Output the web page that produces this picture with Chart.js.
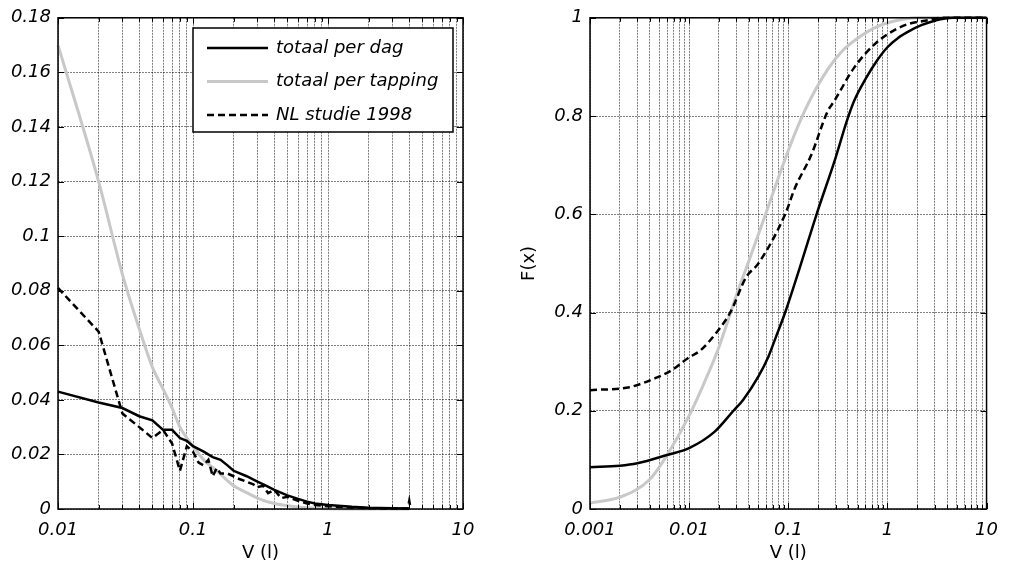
<!DOCTYPE html>
<html>
<head>
<meta charset="utf-8">
<script src="https://cdn.jsdelivr.net/npm/chart.js@4.4.1/dist/chart.umd.min.js"></script>
<style>
    html, body { margin: 0; padding: 0; background: #fff; }
    #wrap { position: relative; width: 1009px; height: 565px; overflow: hidden; }
    #left { position: absolute; left: 0; top: 0; }
    #right { position: absolute; left: 500px; top: 0; }
</style>
</head>
<body>
<div id="wrap">
    <canvas id="left" width="495" height="565"></canvas>
    <canvas id="right" width="509" height="565"></canvas>
</div>
<script>
/* Tappingsvolumes – kansdichtheid (links) en cumulatieve verdeling (rechts) */
(function () {
    'use strict';

    var LABELS = ['totaal per dag', 'totaal per tapping', 'NL studie 1998'];

    // left: density
    var dagX = [0.01, 0.02, 0.03, 0.04, 0.05, 0.06, 0.07, 0.08, 0.09, 0.1, 0.12, 0.14, 0.16, 0.18, 0.2, 0.25, 0.3, 0.35, 0.4, 0.5, 0.6, 0.7, 0.8, 1, 1.5, 2, 3, 4];
    var dagY = [0.043, 0.039, 0.037, 0.034, 0.0325, 0.029, 0.029, 0.026, 0.025, 0.023, 0.021, 0.019, 0.018, 0.016, 0.014, 0.012, 0.010, 0.0085, 0.007, 0.005, 0.0037, 0.0027, 0.002, 0.0015, 0.0008, 0.0005, 0.0003, 0.0002];

    var tapX = [0.01, 0.02, 0.03, 0.04, 0.05, 0.06, 0.07, 0.08, 0.09, 0.1, 0.12, 0.15, 0.2, 0.25, 0.3, 0.4, 0.5, 0.6, 0.8, 1, 2, 4];
    var tapY = [0.170, 0.120, 0.086, 0.066, 0.052, 0.044, 0.037, 0.030, 0.026, 0.023, 0.018, 0.014, 0.0085, 0.006, 0.004, 0.002, 0.0012, 0.0007, 0.0003, 0.0001, 0, 0];

    var nlX = [0.01, 0.02, 0.03, 0.04, 0.05, 0.06, 0.07, 0.08, 0.09, 0.1, 0.11, 0.12, 0.13, 0.14, 0.15, 0.16, 0.18, 0.2, 0.22, 0.25, 0.28, 0.3, 0.33, 0.36, 0.4, 0.45, 0.5, 0.6, 0.7, 0.8, 1, 1.5, 2, 3, 3.9, 4, 4.1];
    var nlY = [0.081, 0.065, 0.035, 0.030, 0.026, 0.029, 0.024, 0.014, 0.023, 0.021, 0.017, 0.016, 0.018, 0.012, 0.015, 0.013, 0.013, 0.012, 0.011, 0.010, 0.009, 0.008, 0.0085, 0.0058, 0.007, 0.004, 0.0045, 0.003, 0.002, 0.0015, 0.001, 0.0005, 0.0003, 0.0002, 0.0002, 0.003, 0];

    // right: cumulative
    var dagCdfX = [0.001, 0.002, 0.003, 0.006, 0.01, 0.018, 0.028, 0.035, 0.05, 0.063, 0.075, 0.093, 0.13, 0.193, 0.3, 0.39, 0.46, 0.6, 0.78, 1, 1.3, 1.66, 2.2, 3, 4.5, 10];
    var dagCdfY = [0.085, 0.088, 0.093, 0.11, 0.124, 0.157, 0.2, 0.222, 0.27, 0.31, 0.35, 0.40, 0.49, 0.6, 0.715, 0.79, 0.83, 0.875, 0.912, 0.94, 0.96, 0.973, 0.985, 0.994, 1, 1];

    var tapCdfX = [0.001, 0.002, 0.004, 0.006, 0.01, 0.015, 0.02, 0.03, 0.04, 0.059, 0.1, 0.15, 0.25, 0.36, 0.53, 0.75, 1.1, 2, 10];
    var tapCdfY = [0.012, 0.024, 0.06, 0.11, 0.19, 0.268, 0.33, 0.435, 0.505, 0.6, 0.73, 0.815, 0.895, 0.935, 0.962, 0.98, 0.992, 1, 1];

    var nlCdfX = [0.001, 0.0025, 0.0045, 0.0066, 0.0097, 0.013, 0.019, 0.026, 0.0376, 0.05, 0.093, 0.117, 0.17, 0.25, 0.29, 0.46, 0.75, 1.13, 1.66, 2.4, 3.5, 10];
    var nlCdfY = [0.242, 0.248, 0.266, 0.282, 0.307, 0.323, 0.36, 0.40, 0.472, 0.5, 0.6, 0.654, 0.72, 0.81, 0.83, 0.898, 0.947, 0.973, 0.988, 0.994, 1, 1];

    var LEFT_Y_TICKS = { min: 0, max: 0.18, step: 0.02 };
    var RIGHT_Y_TICKS = { min: 0, max: 1, step: 0.2 };

    var FONT = '"DejaVu Sans", "Liberation Sans", sans-serif';
    var GRID = 'rgba(0,0,0,0.5)';

    function pts(xs, ys) {
        return xs.map(function (x, i) { return { x: x, y: ys[i] }; });
    }

    function logTicks(lo, hi) {
        var out = [];
        for (var e = lo; e < hi; e++) {
            for (var m = 1; m < 10; m++) out.push(+(m * Math.pow(10, e)).toPrecision(3));
        }
        out.push(Math.pow(10, hi));
        return out;
    }

    function isDecade(v) {
        var l = Math.log10(v);
        return Math.abs(l - Math.round(l)) < 1e-9;
    }

    // smooth: which series get monotone interpolation [dag, tapping, NL]
    function datasets(a, b, c, smooth) {
        var mode = function (on) { return on ? 'monotone' : 'default'; };
        return [
            { label: LABELS[0], data: a, borderColor: '#000', borderWidth: 2.5, order: 1, cubicInterpolationMode: mode(smooth[0]) },
            { label: LABELS[1], data: b, borderColor: '#c8c8c8', borderWidth: 3, order: 2, cubicInterpolationMode: mode(smooth[1]) },
            { label: LABELS[2], data: c, borderColor: '#000', borderWidth: 2.5, borderDash: [7, 4], order: 1, cubicInterpolationMode: mode(smooth[2]) }
        ];
    }

    // box around the plot + inward tick marks (MATLAB style)
    var frame = {
        id: 'frame',
        afterDatasetsDraw: function (chart) {
            var a = chart.chartArea, ctx = chart.ctx;
            var sx = chart.scales.x, sy = chart.scales.y;
            ctx.save();
            ctx.strokeStyle = '#000';
            ctx.lineWidth = 1;
            ctx.setLineDash([]);
            ctx.beginPath();
            sx.ticks.forEach(function (t) {
                var px = Math.round(sx.getPixelForValue(t.value)) + 0.5;
                var len = isDecade(t.value) ? 6 : 4;
                ctx.moveTo(px, a.bottom); ctx.lineTo(px, a.bottom - len);
                ctx.moveTo(px, a.top); ctx.lineTo(px, a.top + len);
            });
            sy.ticks.forEach(function (t) {
                var py = Math.round(sy.getPixelForValue(t.value)) + 0.5;
                ctx.moveTo(a.left, py); ctx.lineTo(a.left + 6, py);
                ctx.moveTo(a.right, py); ctx.lineTo(a.right - 6, py);
            });
            ctx.stroke();
            ctx.lineWidth = 1.5;
            ctx.strokeRect(a.left, a.top, a.right - a.left, a.bottom - a.top);
            ctx.restore();
        }
    };

    var legendBox = {
        id: 'legendBox',
        afterDraw: function (chart) {
            var ctx = chart.ctx;
            var bx = 193, by = 28, bw = 260, bh = 104;
            ctx.save();
            ctx.fillStyle = '#fff';
            ctx.fillRect(bx, by, bw, bh);
            ctx.strokeStyle = '#000';
            ctx.lineWidth = 1.5;
            ctx.strokeRect(bx, by, bw, bh);
            chart.data.datasets.forEach(function (ds, i) {
                var yy = by + 20 + i * 33.5;
                ctx.strokeStyle = ds.borderColor;
                ctx.lineWidth = ds.borderWidth;
                ctx.setLineDash(ds.borderDash || []);
                ctx.beginPath();
                ctx.moveTo(207, yy);
                ctx.lineTo(268, yy);
                ctx.stroke();
                ctx.setLineDash([]);
                ctx.fillStyle = '#000';
                ctx.font = 'italic 18px ' + FONT;
                ctx.textBaseline = 'middle';
                ctx.textAlign = 'left';
                ctx.fillText(ds.label, 276, yy);
            });
            ctx.restore();
        }
    };

    function buildChart(id, data, xLo, xHi, yT, yWidth, padRight, yTitle, extraPlugins) {
        var xTicks = logTicks(xLo, xHi);
        var digits = yT.step < 0.1 ? 2 : 1;
        return new Chart(document.getElementById(id), {
            type: 'line',
            data: { datasets: data },
            options: {
                responsive: false,
                animation: false,
                events: [],
                layout: { padding: { top: 17, right: padRight, left: 0, bottom: 0 } },
                elements: {
                    point: { radius: 0 },
                    line: { tension: 0, fill: false, borderCapStyle: 'butt' }
                },
                datasets: { line: { clip: 4 } },
                plugins: { legend: { display: false }, tooltip: { enabled: false } },
                scales: {
                    x: {
                        type: 'logarithmic',
                        min: Math.pow(10, xLo),
                        max: Math.pow(10, xHi),
                        afterBuildTicks: function (s) {
                            s.ticks = xTicks.map(function (v) { return { value: v }; });
                        },
                        afterFit: function (s) { s.height = 56; },
                        ticks: {
                            autoSkip: false,
                            maxRotation: 0,
                            padding: 11,
                            color: '#000',
                            font: { family: FONT, size: 18, style: 'italic' },
                            callback: function (v) { return isDecade(v) ? String(v) : ''; }
                        },
                        grid: { color: GRID, lineWidth: 1, drawTicks: false },
                        border: { display: false, dash: [2, 1] },
                        title: {
                            display: true,
                            text: 'V (l)',
                            color: '#000',
                            font: { family: FONT, size: 18 },
                            padding: { top: 0, bottom: 1 }
                        }
                    },
                    y: {
                        min: yT.min,
                        max: yT.max,
                        afterFit: function (s) { s.width = yWidth; },
                        ticks: {
                            stepSize: yT.step,
                            padding: 7,
                            color: '#000',
                            font: { family: FONT, size: 18, style: 'italic' },
                            callback: function (v) { return String(+v.toFixed(digits)); }
                        },
                        grid: { color: GRID, lineWidth: 1, drawTicks: false },
                        border: { display: false, dash: [2, 1] },
                        title: {
                            display: !!yTitle,
                            text: yTitle || '',
                            color: '#000',
                            font: { family: FONT, size: 18 },
                            padding: { top: 19, bottom: 19 }
                        }
                    }
                }
            },
            plugins: [frame].concat(extraPlugins || [])
        });
    }

    buildChart('left',
        datasets(pts(dagX, dagY), pts(tapX, tapY), pts(nlX, nlY), [false, true, false]),
        -2, 1, LEFT_Y_TICKS, 58, 32, null, [legendBox]);

    buildChart('right',
        datasets(pts(dagCdfX, dagCdfY), pts(tapCdfX, tapCdfY), pts(nlCdfX, nlCdfY), [true, true, true]),
        -3, 1, RIGHT_Y_TICKS, 90, 13, 'F(x)', []);
}());
</script>
</body>
</html>
